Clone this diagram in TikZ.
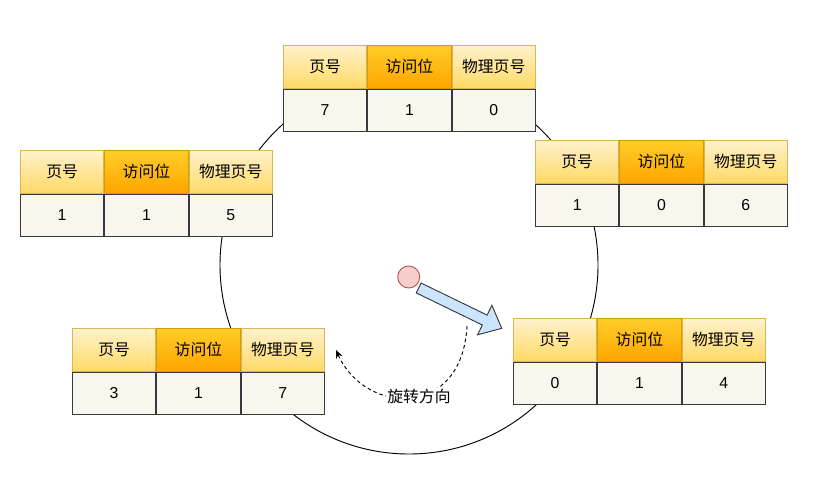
\documentclass[tikz,border=0pt]{standalone}
\usepackage{fontspec}
\setmainfont{Liberation Sans}
\newfontfamily\cjk{Noto Sans CJK SC}
\usetikzlibrary{positioning,arrows.meta}

\definecolor{pageTop}{HTML}{FFF2CC}
\definecolor{pageBot}{HTML}{FFD966}
\definecolor{pageLine}{HTML}{D6B656}
\definecolor{bitTop}{HTML}{FFCD28}
\definecolor{bitBot}{HTML}{FFA500}
\definecolor{bitLine}{HTML}{D79B00}
\definecolor{cellFill}{HTML}{F9F7ED}
\definecolor{cellLine}{HTML}{36393D}
\definecolor{handFill}{HTML}{F8CECC}
\definecolor{handLine}{HTML}{B85450}
\definecolor{arrowFill}{HTML}{CCE5FF}

\tikzset{
  cellbase/.style={rectangle, inner sep=0pt, line width=0.8pt,
    minimum width=2.5cm, minimum height=1.28cm,
    font=\fontsize{13.5}{16}\selectfont},
  hdpage/.style={cellbase, draw=pageLine, top color=pageTop, bottom color=pageBot},
  hdbit/.style={cellbase, draw=bitLine, top color=bitTop, bottom color=bitBot},
  bodycell/.style={cellbase, draw=cellLine, fill=cellFill},
}

% one entry of the clock: header row + value row
\newcommand{\pagetable}[5]{%
  \node[hdpage, anchor=north west] (#1-h1) at #2 {\cjk 页号};
  \node[hdbit, right=0pt of #1-h1] (#1-h2) {\cjk 访问位};
  \node[hdpage, right=0pt of #1-h2] (#1-h3) {\cjk 物理页号};
  \node[bodycell, below=0pt of #1-h1] (#1-b1) {#3};
  \node[bodycell, below=0pt of #1-h2] (#1-b2) {#4};
  \node[bodycell, below=0pt of #1-h3] (#1-b3) {#5};
}

\begin{document}
\begin{tikzpicture}[x=0.03cm, y=-0.03cm]
  \useasboundingbox (0,0) rectangle (825,479);

  % =======================================================
  % PARAMETERS
  % =======================================================
  \def\Cx{409} % centre of the clock ring
  \def\Cy{265}
  \def\Ring{5.67cm} % ring radius

  % =======================================================
  % 1. Clock ring
  % =======================================================
  \draw[line width=0.8pt] (\Cx,\Cy) circle[radius=\Ring];

  % =======================================================
  % 2. Page entries on the ring
  % =======================================================
  \pagetable{top}{(283,45)}{7}{1}{0}
  \pagetable{rup}{(535,140)}{1}{0}{6}
  \pagetable{lup}{(20,150)}{1}{1}{5}
  \pagetable{llo}{(72,328)}{3}{1}{7}
  \pagetable{rlo}{(513,318)}{0}{1}{4}

  % =======================================================
  % 3. Clock hand
  % =======================================================
  \node[circle, draw=handLine, fill=handFill, line width=0.8pt,
        minimum size=0.66cm, inner sep=0pt] (hand) at (408.7,277) {};
  \begin{scope}[shift={(418.7,288)}, rotate=-25.9]
    \draw[draw=cellLine, fill=arrowFill, line width=0.8pt, line join=miter]
      (0,-5.5) -- (73.4,-5.5) -- (73.4,-16.4) -- (92.3,0)
      -- (73.4,16.4) -- (73.4,5.5) -- (0,5.5) -- cycle;
  \end{scope}

  % =======================================================
  % 4. Direction of rotation
  % =======================================================
  \coordinate (rotS) at (467,326);
  \coordinate (rotE) at (336,350);
  \draw[line width=0.8pt, dash pattern=on 3pt off 2.5pt, -{Stealth[length=7pt,width=6pt]}]
    (rotS) .. controls (462,420) and (365,415) ..
    node[pos=0.45, fill=white, inner sep=1pt, font=\fontsize{13.5}{16}\selectfont] (rotLabel) {\cjk 旋转方向}
    (rotE);

\end{tikzpicture}
\end{document}
